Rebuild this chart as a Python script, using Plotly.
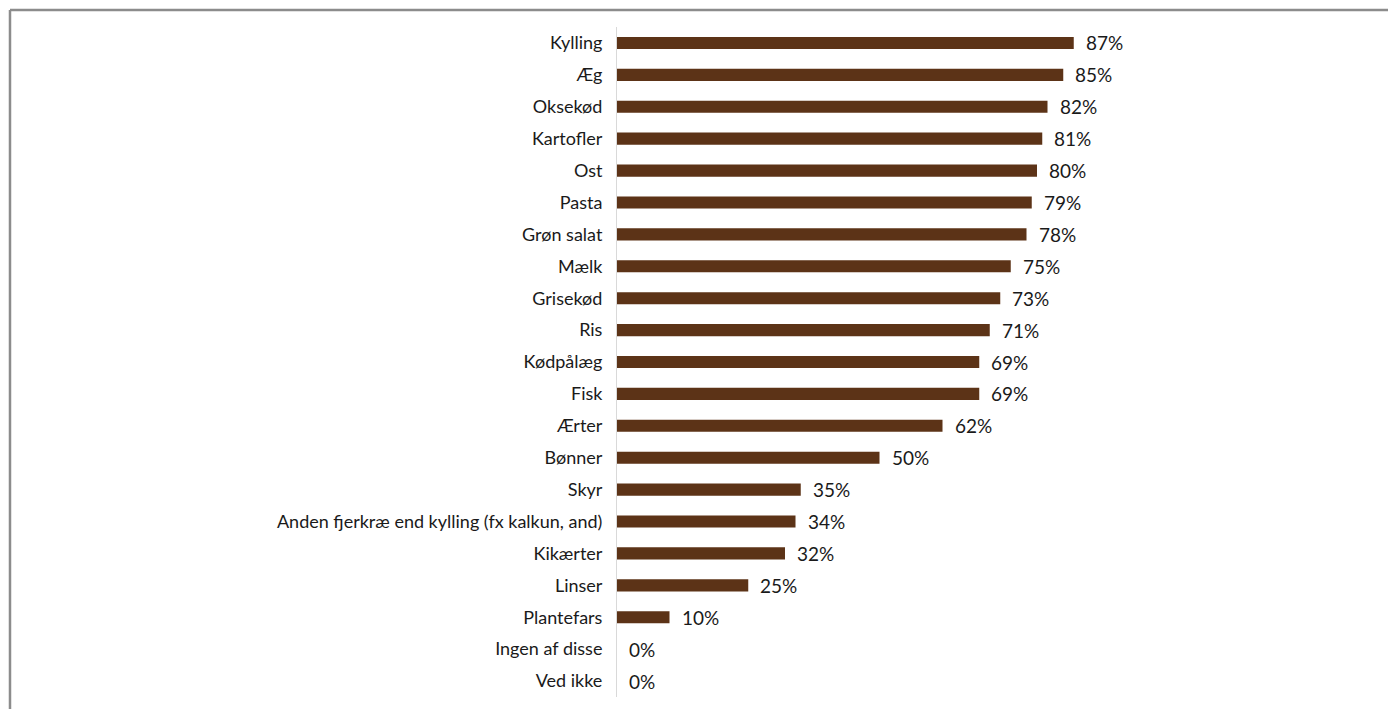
import plotly.graph_objects as go

categories = ["Kylling", "Æg", "Oksekød", "Kartofler", "Ost", "Pasta", "Grøn salat",
              "Mælk", "Grisekød", "Ris", "Kødpålæg", "Fisk", "Ærter", "Bønner", "Skyr",
              "Anden fjerkræ end kylling (fx kalkun, and)", "Kikærter", "Linser",
              "Plantefars", "Ingen af disse", "Ved ikke"]
values = [87, 85, 82, 81, 80, 79, 78, 75, 73, 71, 69, 69, 62, 50, 35, 34, 32, 25, 10, 0, 0]
value_labels = [f"{v}%" for v in values]

BAR_COLOR = "#5C3317"
FONT = "Lato, 'Open Sans', sans-serif"

fig = go.Figure()
fig.add_trace(go.Bar(
    x=values, y=categories, orientation="h",
    marker=dict(color=BAR_COLOR, line=dict(width=0)),
    width=0.38, hoverinfo="skip",
))

for c, v, t in zip(categories, values, value_labels):
    fig.add_annotation(x=v, y=c, text=t, showarrow=False, xanchor="left",
                       xshift=10, font=dict(family=FONT, size=19, color="#1a1a1a"))

# outer frame (top and left edges visible)
fig.add_shape(type="line", xref="paper", yref="paper",
              x0=-1.1562, x1=2.0, y0=1.0254, y1=1.0254,
              line=dict(color="#8c8c8c", width=2.5))
fig.add_shape(type="line", xref="paper", yref="paper",
              x0=-1.1562, x1=-1.1562, y0=1.0254, y1=-0.2,
              line=dict(color="#8c8c8c", width=2.5))

fig.update_layout(
    width=1388, height=701,
    margin=dict(l=609, r=254, t=19, b=12),
    paper_bgcolor="white", plot_bgcolor="white",
    showlegend=False,
    font=dict(family=FONT, size=18, color="#1a1a1a"),
    xaxis=dict(range=[0, 100], visible=False, fixedrange=True),
    yaxis=dict(autorange="reversed", showline=True, linecolor="#d9d9d9", linewidth=1,
               ticks="", ticklabelstandoff=10, showgrid=False,
               tickfont=dict(family=FONT, size=18, color="#1a1a1a")),
    bargap=0.62,
)

fig.write_html("out.html")
